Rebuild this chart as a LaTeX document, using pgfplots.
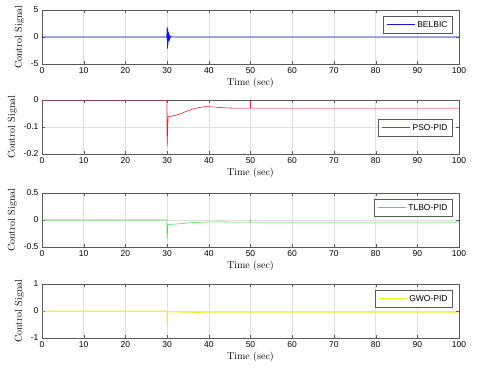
\documentclass[border=0pt]{standalone}
\usepackage{fontspec}
\setsansfont{Liberation Sans}
\usepackage{pgfplots}
\pgfplotsset{compat=1.18}

\definecolor{cblue}{RGB}{20,20,235}
\definecolor{cred}{RGB}{235,30,45}
\definecolor{cgreen}{RGB}{70,230,70}
\definecolor{cyellow}{RGB}{238,238,30}

\pgfplotsset{
  panel/.style={
    width=417pt, height=54pt, scale only axis,
    xmin=0, xmax=100, xtick={0,10,...,100},
    grid=major, grid style={gray!25},
    axis line style={gray!70!black},
    tick style={gray!70!black},
    major tick length=3pt,
    ticklabel style={font=\sffamily\fontsize{8.5}{9}\selectfont},
    /pgf/number format/assume math mode=true,
    xlabel={Time (sec)}, ylabel={Control Signal},
    xlabel style={yshift=2pt},
    ylabel style={yshift=0pt},
    legend style={font=\sffamily\fontsize{8.5}{9}\selectfont, draw=gray!70!black,
      fill=white, inner xsep=3pt, inner ysep=2.5pt},
    legend cell align=left,
    legend image code/.code={\draw[#1, line width=1.1pt] (0pt,0pt) -- (28pt,0pt);},
    every axis plot/.append style={line width=0.6pt},
  }
}

\begin{document}
\begin{tikzpicture}
\useasboundingbox (-42pt,10pt) rectangle (438pt,-360pt);
% BELBIC
\begin{axis}[panel, at={(0,0)}, anchor=north west,
  ymin=-5, ymax=5, ytick={-5,0,5},
  legend style={at={(0.985,0.88)}, anchor=north east}]
\addplot[cblue] coordinates {
  (0,0) (29.9,0) (30,1.9) (30.08,-2.2) (30.16,1.6) (30.24,-1.4) (30.32,1.0)
  (30.4,-0.8) (30.5,0.5) (30.6,-0.35) (30.7,0.2) (30.85,-0.1) (31,0.05)
  (32,0) (100,0)
};
\addlegendentry{BELBIC}
\end{axis}

% PSO-PID
\begin{axis}[panel, at={(0,-90pt)}, anchor=north west,
  ymin=-0.2, ymax=0, ytick={-0.2,-0.1,0},
  legend style={at={(0.985,0.64)}, anchor=north east}]
\addplot[cred] coordinates {
  (0,0) (29.95,0) (30,-0.172) (30.25,-0.062) (31,-0.06) (32,-0.057)
  (33,-0.052) (34,-0.046) (35,-0.040) (36,-0.034) (37,-0.030) (38,-0.027)
  (39,-0.025) (40,-0.025) (41,-0.0255) (42,-0.027) (44,-0.029) (46,-0.030)
  (49.95,-0.030) (50,-0.002) (50.05,-0.030) (100,-0.030)
};
\addlegendentry{PSO-PID}
\end{axis}

% TLBO-PID
\begin{axis}[panel, at={(0,-183pt)}, anchor=north west,
  ymin=-0.5, ymax=0.5, ytick={-0.5,0,0.5},
  legend style={at={(0.985,0.88)}, anchor=north east}]
\addplot[cgreen] coordinates {
  (0,0) (29.95,0) (30,-0.36) (30.2,-0.08) (31,-0.08) (33,-0.07)
  (35,-0.055) (37,-0.045) (40,-0.035) (43,-0.035) (46,-0.04)
  (49.95,-0.04) (50,0.0) (50.05,-0.04) (99.8,-0.04) (100,-0.02)
};
\addlegendentry{TLBO-PID}
\end{axis}

% GWO-PID
\begin{axis}[panel, at={(0,-274pt)}, anchor=north west,
  ymin=-1, ymax=1, ytick={-1,0,1},
  legend style={at={(0.985,0.88)}, anchor=north east}]
\addplot[cyellow] coordinates {
  (0,0) (29.95,0) (30,-0.5) (30.2,-0.08) (32,-0.07) (35,-0.06)
  (40,-0.05) (45,-0.05) (100,-0.05)
};
\addlegendentry{GWO-PID}
\end{axis}
\end{tikzpicture}
\end{document}
